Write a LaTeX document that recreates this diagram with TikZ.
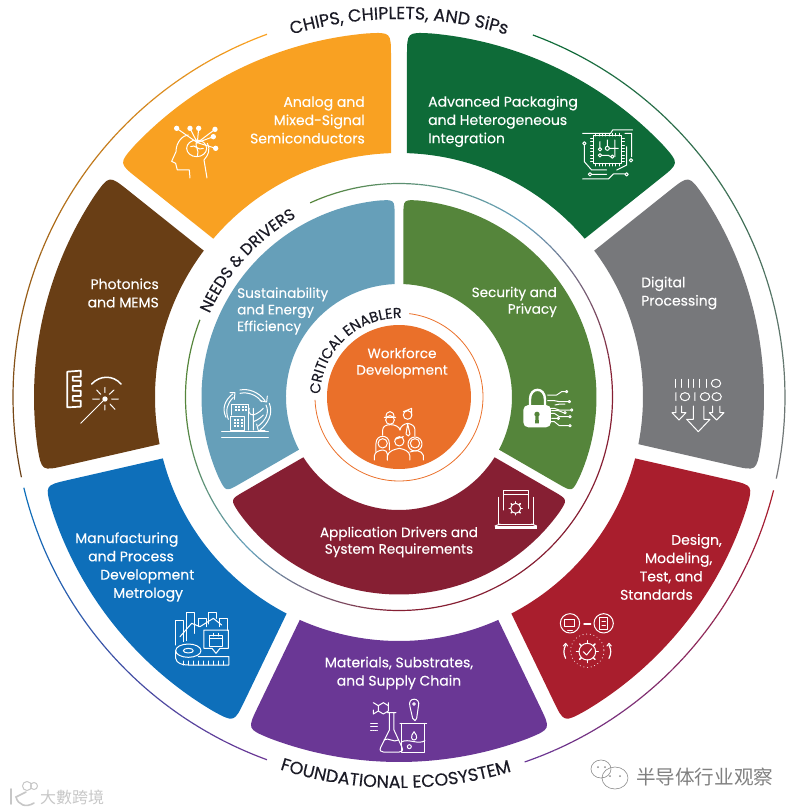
\documentclass[tikz,border=0pt]{standalone}
\usepackage{fontspec}
\setmainfont{Poppins}[FakeBold=0.15]
\newfontfamily\titlefont{Poppins}[FakeBold=0.35]
\newfontfamily\cjkfont{Noto Sans CJK SC}
\usetikzlibrary{calc,decorations.text}
\definecolor{cOrange}{HTML}{F9A122}
\definecolor{cGreen}{HTML}{0E6B38}
\definecolor{cGrey}{HTML}{77787B}
\definecolor{cRed}{HTML}{A91E2D}
\definecolor{cPurple}{HTML}{6A3795}
\definecolor{cBlue}{HTML}{0E6FBA}
\definecolor{cBrown}{HTML}{693E15}
\definecolor{cSteel}{HTML}{669FB9}
\definecolor{cLeaf}{HTML}{55853B}
\definecolor{cMaroon}{HTML}{861F33}
\definecolor{cCore}{HTML}{EA702A}
\definecolor{cInk}{HTML}{1B1B26}
\newcommand{\segfont}{\fontsize{14}{18.3}\selectfont}
\newcommand{\midfont}{\fontsize{13.6}{16.6}\selectfont}
\newcommand{\ringfont}{\titlefont\fontsize{17.5}{20}\selectfont\color{cInk}}
\newcommand{\needfont}{\titlefont\fontsize{16}{18}\selectfont\color{cInk}}
\newcommand{\corefont}{\titlefont\fontsize{14.4}{18}\selectfont\color{cInk}}
\tikzset{
  seglbl/.style={text=white,font=\segfont,inner sep=0pt},
  midlbl/.style={text=white,font=\midfont,inner sep=0pt},
  icon/.style={draw=white,line width=1pt,line cap=round,line join=round},
  thinarc/.style={line width=1.2pt},
  mark1/.style={text=black!22,font=\cjkfont\fontsize{16}{18}\selectfont,inner sep=0pt},
  mark2/.style={text=black!50,font=\cjkfont\fontsize{19.6}{22}\selectfont,inner sep=0pt},
}
% segment: colour, start gap angle, end gap angle, inner r, outer r, half gap
\newcommand{\ringseg}[6]{
  \pgfmathsetmacro\aIn{#2+asin(#6/#4)}
  \pgfmathsetmacro\aOut{#2+asin(#6/#5)}
  \pgfmathsetmacro\bIn{#3-asin(#6/#4)}
  \pgfmathsetmacro\bOut{#3-asin(#6/#5)}
  \pgfmathsetmacro\rnd{0.05*#5+6}
  \pgfmathsetmacro\dA{\rnd/#5*57.3}
  \pgfmathsetmacro\aArc{\aOut+\dA}
  \pgfmathsetmacro\bArc{\bOut-\dA}
  \coordinate (i1) at (\aIn:#4);
  \coordinate (o1) at (\aOut:#5);
  \coordinate (i2) at (\bIn:#4);
  \coordinate (o2) at (\bOut:#5);
  \fill[#1] (i1) -- ($(o1)!\rnd pt!(i1)$) .. controls (o1) .. (\aArc:#5)
    arc[start angle=\aArc,end angle=\bArc,radius=#5]
    .. controls (o2) .. ($(o2)!\rnd pt!(i2)$) -- (i2)
    arc[start angle=\bIn,end angle=\aIn,radius=#4] -- cycle;
}
% thin arc fading from one colour to the next: colours, radius, angles
\newcommand{\fadearc}[5]{
  \foreach \k in {1,...,24}{
    \pgfmathsetmacro\angA{#4+(#5-#4)*(\k-1)/24}
    \pgfmathsetmacro\angB{#4+(#5-#4)*\k/24}
    \pgfmathsetmacro\pct{100*(\k-1)/23}
    \draw[thinarc,#2!\pct!#1] (\angA:#3) arc[start angle=\angA,end angle=\angB,radius=#3];
  }
}
\newcommand{\cogwheel}[3]{
  \draw[icon] (#1,#2) circle[radius=#3];
  \foreach \a in {0,45,...,315}
    \draw[icon,line width=1.5pt] ({#1+#3*cos(\a)},{#2+#3*sin(\a)}) -- ({#1+1.3*#3*cos(\a)},{#2+1.3*#3*sin(\a)});
}

\begin{document}
\begin{tikzpicture}[x=1pt,y=1pt]
  \useasboundingbox (-399,-415) rectangle (401,397);
  % outer ring
  \ringseg{cOrange}{90}{141.43}{244}{365}{8}
  \ringseg{cBrown}{141.43}{192.86}{244}{365}{7.3}
  \ringseg{cBlue}{192.86}{244.29}{244}{365}{7.3}
  \ringseg{cPurple}{244.29}{295.71}{244}{365}{7.3}
  \ringseg{cRed}{295.71}{347.14}{244}{365}{7.3}
  \ringseg{cGrey}{347.14}{398.57}{244}{365}{7.3}
  \ringseg{cGreen}{38.57}{90}{244}{365}{8}
  % inner ring
  \ringseg{cSteel}{90}{210}{113}{197.5}{4.4}
  \ringseg{cMaroon}{210}{330}{113}{197.5}{4.4}
  \ringseg{cLeaf}{-30}{90}{113}{197.5}{4.4}
  \fill[cCore] (0,0) circle[radius=72];
  \draw[cCore,line width=0.8pt] (83:84) arc[start angle=83,end angle=-178,radius=84];
  % thin rings
  \fadearc{cOrange}{cBrown}{386}{110}{192}
  \fadearc{cBlue}{cPurple}{386}{193.6}{250}
  \fadearc{cPurple}{cRed}{386}{289}{346}
  \fadearc{cGrey}{cGreen}{386}{-12.2}{69.7}
  \fadearc{cLeaf}{cSteel}{213.5}{114.6}{55}
  \fadearc{cSteel}{cMaroon}{213.5}{55}{5}
  \draw[thinarc,cMaroon] (5:213.5) arc[start angle=5,end angle=-90,radius=213.5];
  \fadearc{cMaroon}{cSteel}{213.5}{-90}{-135}
  \fadearc{cSteel}{cLeaf}{213.5}{-135}{-175}
  \draw[thinarc,cLeaf] (-175:213.5) arc[start angle=-175,end angle=-201.2,radius=213.5];
  % ring titles
  \path[decorate,decoration={text along path,text align=center,
    text={|\ringfont|CHIPS, CHIPLETS, AND SiPs}}]
    (112:378) arc[start angle=112,end angle=68,radius=378];
  \path[decorate,decoration={text along path,text align=center,
    text={|\ringfont|FOUNDATIONAL ECOSYSTEM}}]
    (247.5:391) arc[start angle=247.5,end angle=291.5,radius=391];
  \path[decorate,decoration={text along path,text align=center,
    text={|\needfont|NEEDS {\&} DRIVERS}}]
    (165:207) arc[start angle=165,end angle=111,radius=207];
  \path[decorate,decoration={text along path,text align=center,
    text={|\corefont|CRITICAL ENABLER}}]
    (195:79) arc[start angle=195,end angle=71,radius=79];

  % everything below is in picture pixels
  \begin{scope}[shift={(-399,397)},yscale=-1]
  \node[seglbl,anchor=east,align=right] (analog) at (365,120) {Analog and\\Mixed-Signal\\Semiconductors};
  \node[seglbl,anchor=west,align=left] (packaging) at (428,121.5) {Advanced Packaging\\and Heterogeneous\\Integration};
  \node[seglbl,anchor=east,align=right] (photonics) at (159,293) {Photonics\\and MEMS};
  \node[seglbl,anchor=west,align=left] (digital) at (641,293) {Digital\\Processing};
  \node[seglbl,anchor=west,align=left] (metrology) at (75,567) {Manufacturing\\\hspace*{13pt}and Process\\\hspace*{25pt}Development\\\hspace*{38pt}Metrology};
  \node[seglbl,anchor=east,align=right] (design) at (722,567) {Design,\\Modeling,\kern9.5pt\\Test, and\kern19pt\\Standards\kern29pt};
  \node[seglbl,align=center] (materials) at (399,673) {Materials, Substrates,\\and Supply Chain};
  \node[midlbl,anchor=west,align=left] (sustain) at (237,311) {Sustainability\\and Energy\\Efficiency};
  \node[midlbl,anchor=east,align=right] (security) at (557,302) {Security and\\Privacy};
  \node[midlbl,align=center] (drivers) at (399,542) {Application Drivers and\\System Requirements};
  \node[midlbl,align=center] (workforce) at (402,363) {Workforce\\Development};

  % head and nodes
  \begin{scope}[shift={(0,0)},scale=1/3]
    \draw[icon] (570,534) -- (568,510) -- (532,510) -- (527,490) -- (515,484) -- (528,455)
      .. controls (528,425) and (550,405) .. (565,405) (622,430) .. controls (632,450) and (625,465) .. (612,480) -- (621,534);
    \draw[icon] (590,445) ellipse[x radius=30,y radius=25];
    \draw[icon] (572,440) .. controls (585,430) and (595,455) .. (610,445) (590,422) .. controls (582,440) and (600,450) .. (592,468);
    \foreach \x/\y in {530/385,570/385,596/385,645/388,640/410,647/445}{
      \fill[white] (\x,\y) circle[radius=8];
      \draw[icon] (\x,\y) -- (592,428);
    }
  \end{scope}
  % chip
  \begin{scope}[shift={(400,0)},scale=1/3]
    \draw[icon] (580,408) rectangle (665,490);
    \foreach \p in {588,598,...,658}
      \draw[icon] (\p,400) -- (\p,408) (\p,490) -- (\p,498);
    \foreach \p in {416,426,...,486}
      \draw[icon] (572,\p) -- (580,\p) (665,\p) -- (673,\p);
    \draw[icon] (622,445) circle[radius=6] (600,448) circle[radius=5] (600,466) circle[radius=5] (637,470) circle[radius=5];
    \draw[icon] (600,425) -- (600,443) (622,420) -- (622,439) (645,420) -- (645,470) (605,466) -- (625,466) -- (632,470) (628,445) -- (655,445);
    \draw[icon] (548,400) -- (632,400) -- (638,390) -- (698,390) (675,400) -- (695,400) -- (695,470);
    \draw[icon] (553,430) circle[radius=5];
    \draw[icon] (553,436) -- (553,485) -- (575,510) -- (620,510) (693,481) circle[radius=5];
    \draw[icon] (680,440) -- (680,495) -- (650,510);
    \draw[icon] (548,537) -- (625,537) -- (640,522) -- (675,522) (570,523) circle[radius=5] (576,523) -- (620,523) (680,523) circle[radius=5];
  \end{scope}
  % comb and laser
  \begin{scope}[shift={(50,360)},scale=1/3]
    \draw[icon,line width=1.7pt] (52,35) -- (92,32) -- (92,50) -- (68,50) -- (68,62) -- (92,62) -- (92,78) -- (68,78) -- (68,92) -- (92,92) -- (92,108) -- (68,108) -- (68,122) -- (92,122) -- (92,140) -- (52,142) -- cycle;
    \draw[icon,line width=1.5pt] (125,72) .. controls (150,45) and (190,45) .. (213,72);
    \fill[white] (165,117) circle[radius=8];
    \draw[icon] (165,117) -- (92,190);
    \draw[icon] (128,117) -- (148,117) (185,117) -- (205,117) (140,90) -- (152,103) (192,90) -- (178,103) (165,82) -- (165,98) (165,135) -- (165,150) (180,132) -- (195,148);
  \end{scope}
  % digital
  \begin{scope}[shift={(660,370)},scale=1/3]
    \foreach \p in {48,66,85,102,120,140}
      \draw[icon] (\p,28) -- (\p,52);
    \draw[icon] (168,40) ellipse[x radius=14,y radius=12];
    \draw[icon] (48,68) -- (48,92) (105,68) -- (105,92) (75,80) ellipse[x radius=14,y radius=12] (135,80) ellipse[x radius=14,y radius=12] (170,80) ellipse[x radius=14,y radius=12];
    \draw[icon] (48,108) -- (48,128) -- (36,128) -- (57,150) -- (78,128) -- (65,128) -- (65,108);
    \draw[icon] (158,108) -- (158,128) -- (148,128) -- (170,150) -- (192,128) -- (180,128) -- (180,108);
    \draw[icon] (100,108) -- (100,148) -- (80,148) -- (115,185) -- (150,148) -- (132,148) -- (132,108);
  \end{scope}
  % buildings
  \begin{scope}[shift={(210,380)},scale=1/3]
    \draw[icon] (48,112) .. controls (35,85) and (45,60) .. (68,42);
    \draw[icon] (55,118) .. controls (45,90) and (52,70) .. (70,52);
    \draw[icon] (60,38) -- (75,38) -- (73,58);
    \draw[icon] (90,30) .. controls (115,25) and (145,35) .. (165,62);
    \draw[icon] (90,40) .. controls (115,35) and (140,45) .. (155,65);
    \draw[icon] (150,62) -- (170,66) -- (172,48);
    \draw[icon] (178,70) .. controls (190,100) and (175,130) .. (150,150);
    \draw[icon] (168,75) .. controls (180,100) and (165,122) .. (145,138);
    \draw[icon] (140,132) -- (145,152) -- (165,152);
    \draw[icon] (65,105) -- (65,72) -- (115,72) -- (115,150);
    \draw[icon] (62,108) rectangle (105,150);
    \foreach \x in {72,82,92}{
      \foreach \y in {116,126,136}
        \fill[white] (\x,\y) rectangle ++(6,6);
    }
    \foreach \x in {75,85,95,105}{
      \foreach \y in {78,88}
        \fill[white] (\x,\y) rectangle ++(6,6);
    }
    \draw[icon] (130,150) -- (130,85) (130,105) .. controls (115,105) and (115,90) .. (118,85) (130,105) .. controls (145,100) and (155,90) .. (160,85) (130,125) .. controls (145,120) and (155,110) .. (160,105);
    \draw[icon,line width=1.2pt] (35,155) -- (175,155) (35,172) -- (175,172);
  \end{scope}
  % lock
  \begin{scope}[shift={(515,380)},scale=1/3]
    \draw[icon,line width=2.4pt] (45,75) -- (45,58) .. controls (45,20) and (90,20) .. (90,58) -- (90,75);
    \fill[white,rounded corners=5pt] (25,75) rectangle (108,142);
    \fill[cLeaf] (66,103) circle[radius=8] (62,105) -- (70,105) -- (72,130) -- (60,130) -- cycle;
    \foreach \x/\y/\mx/\my in {155/35/125/45,163/65/118/62,170/90/118/85,165/110/118/100,165/137/118/125}{
      \draw[icon] (\x,\y) circle[radius=3.5];
      \draw[icon] (\x-4,\y) -- (\mx+15,\y) -- (\mx,\my) -- (98,\my);
    }
    \draw[icon] (150,72) -- (135,72) -- (120,75) (150,98) circle[radius=3.5] (146,98) -- (130,92) -- (110,92) (130,115) circle[radius=3.5] (126,115) -- (110,115);
  \end{scope}
  % metrology
  \begin{scope}[shift={(0,400)},scale=1/3]
    \draw[icon] (527,735) -- (527,660) -- (550,660) -- (550,725);
    \draw[icon] (560,722) -- (560,637) -- (585,637) -- (585,700);
    \draw[icon] (595,680) -- (595,655) -- (620,655) -- (620,680);
    \draw[icon] (625,672) -- (625,637) -- (650,637) -- (650,655);
    \draw[icon] (660,680) -- (660,655) -- (683,655) -- (683,692);
    \draw[icon] (540,710) -- (575,670) -- (600,680) -- (640,655) -- (665,675);
    \draw[icon] (612,690) -- (685,690) -- (685,745) -- (660,745) -- (648,760) -- (636,745) -- (612,745) -- cycle;
    \draw[icon] (628,705) rectangle (668,738) (628,716) -- (668,716) (640,700) -- (640,708) (656,700) -- (656,708);
    \draw[icon] (565,752) ellipse[x radius=38,y radius=20];
    \draw[icon] (565,752) ellipse[x radius=15,y radius=7];
    \draw[icon] (527,752) -- (527,775) .. controls (530,790) and (545,795) .. (565,795) -- (687,795) -- (687,770) -- (595,770);
    \foreach \p in {550,565,...,670}
      \draw[icon] (\p,795) -- (\p,783);
  \end{scope}
  % flask and beaker
  \begin{scope}[shift={(360,690)},scale=1/3]
    \draw[icon] (70,38) -- (85,47) -- (85,63) -- (70,72) -- (55,63) -- (55,47) -- cycle (55,63) -- (40,72) (55,47) -- (40,38) (85,47) -- (85,38) (40,60) -- (40,72);
    \draw[icon] (32,100) -- (52,100) (32,110) -- (52,110);
    \draw[icon,densely dotted] (32,120) -- (52,120);
    \draw[icon] (82,68) -- (108,68) (88,68) -- (88,120) -- (62,172) .. controls (58,182) and (62,186) .. (70,186) -- (118,186) .. controls (126,186) and (130,182) .. (126,172) -- (102,120) -- (102,68);
    \draw[icon] (72,150) .. controls (85,140) and (100,160) .. (116,150);
    \draw[icon] (120,100) -- (200,100) (126,100) -- (126,186) -- (195,186) -- (195,100);
    \draw[icon] (126,155) .. controls (145,145) and (175,165) .. (195,152);
    \draw[icon] (162,125) .. controls (150,140) and (155,150) .. (162,150) .. controls (170,150) and (175,140) .. (162,125);
    \draw[icon] (148,170) circle[radius=6];
    \draw[icon] (162,42) circle[radius=4] (150,50) .. controls (140,20) and (185,20) .. (175,50) -- (170,85) -- (165,92) -- (158,85) -- cycle;
  \end{scope}
  % gear and screens
  \begin{scope}[shift={(400,400)},scale=1/3]
    \draw[icon] (510,670) circle[radius=29] (611,670) circle[radius=29];
    \draw[icon] (495,658) rectangle (525,680) (503,690) -- (517,690);
    \draw[icon] (600,652) rectangle (622,688) (606,665) -- (616,665) (606,675) -- (616,675);
    \draw[icon,line width=1.4pt] (552,672) -- (572,672);
    \cogwheel{562}{755}{25}
    \draw[icon] (550,755) -- (560,765) -- (575,746);
    \draw[icon,line width=1pt,dash pattern=on 0.1pt off 3.6pt] (562,752) circle[radius=50];
    \draw[icon,line width=1.2pt] (497,735) .. controls (490,750) and (490,760) .. (497,775) (627,735) .. controls (634,750) and (634,760) .. (627,775);
    \draw[icon] (490,738) -- (497,730) -- (503,738) (621,738) -- (627,730) -- (634,738);
  \end{scope}
  % laptop
  \begin{scope}[shift={(400,400)},scale=1/3]
    \draw[icon] (312,330) -- (312,270) -- (385,270) -- (385,325);
    \draw[icon] (312,282) -- (385,282);
    \draw[icon] (296,292) -- (296,372) -- (400,372) -- (400,292);
    \cogwheel{347}{325}{15}
    \draw[icon] (285,378) -- (300,372) (410,378) -- (395,372);
    \fill[white] (285,378) rectangle (410,386);
  \end{scope}
  % workers
  \begin{scope}[shift={(280,280)},scale=1/3]
    \draw[icon] (330,420) circle[radius=13];
    \draw[icon] (313,412) -- (347,412) (318,410) .. controls (318,390) and (342,390) .. (342,410);
    \draw[icon] (308,466) -- (308,450) .. controls (308,438) and (320,434) .. (332,434) .. controls (345,434) and (358,440) .. (360,450);
    \draw[icon] (383,405) circle[radius=13] (370,395) -- (395,385) -- (395,405);
    \draw[icon] (360,450) .. controls (362,438) and (372,432) .. (383,430) .. controls (395,432) and (405,438) .. (405,450) -- (405,468);
    \draw[icon] (383,432) -- (378,462) -- (385,468) -- (390,462) -- (383,432);
    \draw[icon] (308,490) circle[radius=14];
    \draw[icon] (288,515) -- (288,490) .. controls (288,462) and (328,462) .. (328,490) -- (328,510);
    \draw[icon] (283,540) -- (283,528) .. controls (285,515) and (295,512) .. (308,510) .. controls (318,512) and (322,515) .. (322,522) -- (322,540);
    \draw[icon] (358,484) circle[radius=14] (345,478) -- (370,470);
    \draw[icon] (322,540) -- (322,528) .. controls (325,512) and (345,508) .. (358,505) .. controls (372,508) and (388,512) .. (390,528) -- (390,540);
    \draw[icon] (405,490) circle[radius=14] (405,492) circle[radius=21];
    \draw[icon] (390,516) .. controls (405,510) and (425,510) .. (430,526) -- (430,540);
  \end{scope}
  % the two stamps in the lower corners
  \draw[black!22,line width=1.6pt,line cap=round] (11,789) -- (11,804) (26,792) -- (16,797) .. controls (18,805) and (26,808) .. (34,803);
  \draw[black!22,line width=1pt] (27,786) circle[radius=4.5] (34,786) circle[radius=3.5];
  \node[mark1,anchor=west] (stampa) at (40,797) {大數跨境};
  \draw[black!45,line width=0.6pt] (601,769) ellipse[x radius=10,y radius=9] (615,778) ellipse[x radius=13,y radius=11];
  \fill[black!45] (598,767) circle[radius=1] (605,767) circle[radius=1] (610,776) circle[radius=1] (620,776) circle[radius=1];
  \node[mark2,anchor=west] (stampb) at (636,777) {半导体行业观察};
  \end{scope}
\end{tikzpicture}
\end{document}
